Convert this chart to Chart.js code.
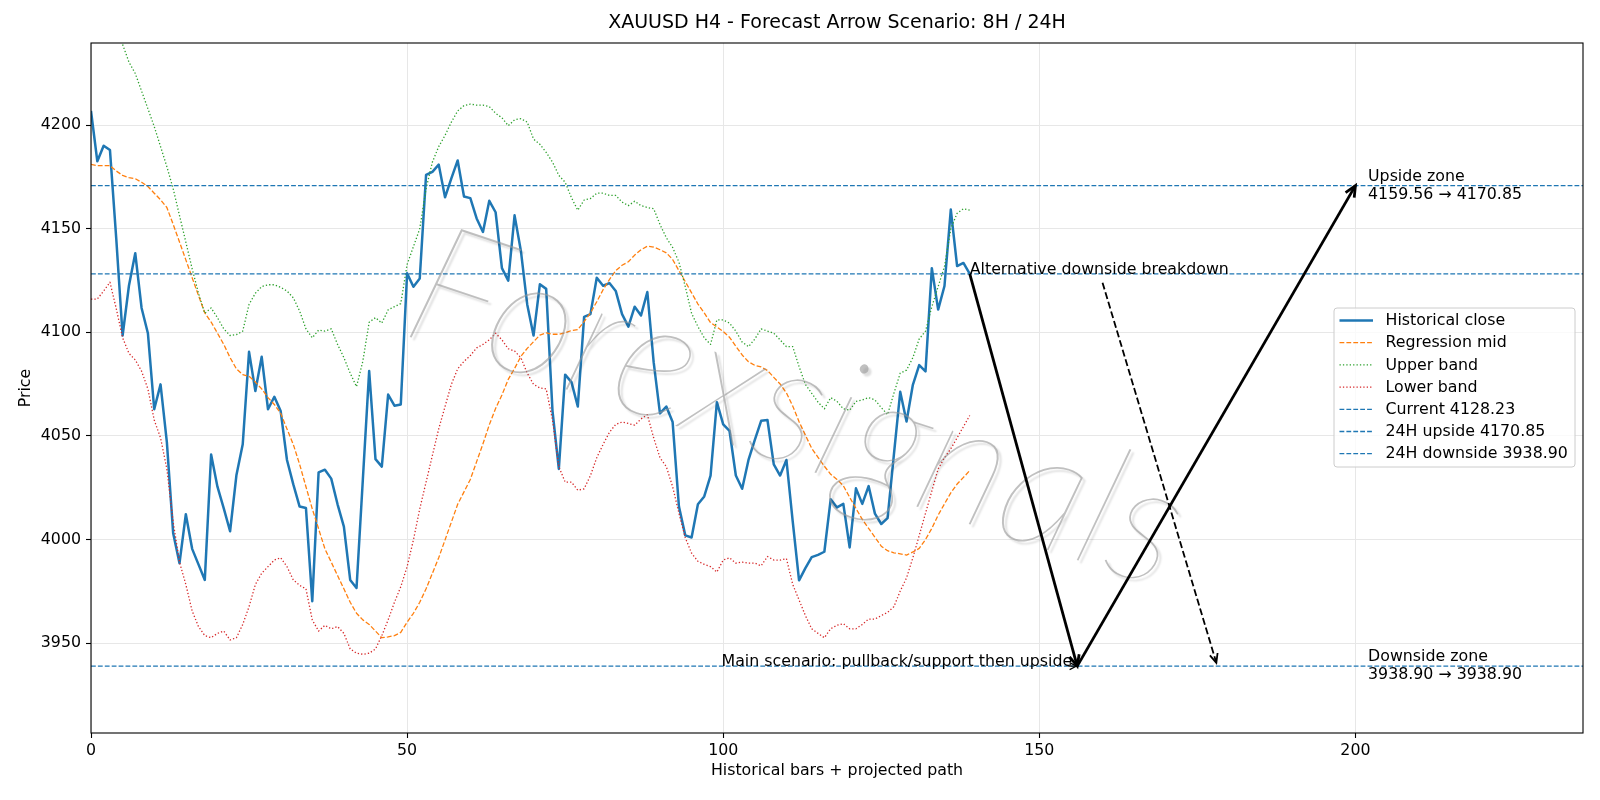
<!DOCTYPE html>
<html><head><meta charset="utf-8">
<script src="https://cdn.jsdelivr.net/npm/chart.js@4.4.1/dist/chart.umd.min.js"></script>
<style>html,body{margin:0;padding:0;background:#fff;}canvas{display:block;}</style>
</head><body>
<canvas id="c" width="1600" height="800"></canvas>
<script>
// ---------------- DATA ----------------
const chartTitle = "XAUUSD H4 - Forecast Arrow Scenario: 8H / 24H";
const xAxisTitle = "Historical bars + projected path";
const yAxisTitle = "Price";

const closeValues = [4206.9,4182.6,4190.1,4188,4145,4098.5,4122.5,4138.2,4111.8,4099.6,
4062.9,4074.9,4047,4003,3988.6,4012.2,3995.5,3988,3980.5,4041,
4025.5,4015,4004,4031,4046,4090.6,4071.7,4088.2,4062.9,4068.9,
4062,4038.4,4026.6,4015.9,4015.2,3970.2,4032.4,4033.7,4029.4,4017,
4006.2,3980.5,3976.6,4029,4081.3,4038.8,4035.2,4070,4064.6,4065.2,
4128.5,4122,4126,4176,4177.5,4181,4165.2,4174.3,4183,4165.6,
4164.8,4155,4148.5,4163.5,4158,4131,4125,4156.5,4139.3,4113.5,
4098.5,4123.2,4121,4062,4034.1,4079.6,4076,4064.2,4107.5,4108.8,
4126.4,4122.5,4123.8,4120,4108.8,4102.8,4112.4,4108.2,4119.5,4085.6,
4060.9,4064.2,4056.7,4015.9,4002,4001,4017,4020.8,4030.9,4066.3,
4055.6,4052.4,4030.9,4024.5,4038.4,4048.1,4057.3,4057.7,4036.3,4030.9,
4038.4,4008.6,3980.3,3986.2,3991.5,3992.6,3994.1,4019.4,4015.5,4017.2,
3996.2,4024.7,4017.2,4025.8,4012.5,4007.5,4010.3,4041,4071.3,4057,
4074.7,4084.2,4081.2,4131,4111,4122.4,4159.3,4132,4133.5,4128.23];

const midValues = [4181.1,4180.5,4180.5,4180.5,4177.9,4175.8,4174.7,4174.2,4172.5,4170.4,
4167.2,4164,4160.3,4152.1,4143.6,4135,4126.4,4117.8,4109.4,4105,
4099.6,4094.2,4087.8,4082.4,4079.6,4078.8,4076,4072.7,4068.5,4065.2,
4060.9,4053.4,4045.9,4036.3,4025.5,4014.8,4005.2,3995.5,3989.1,3982.6,
3976.2,3969.7,3964.4,3961.2,3959,3955.8,3952.6,3953,3953.6,3955.2,
3960.1,3964.4,3969.7,3976.2,3983.7,3991.2,3999.8,4008.4,4017,4023,
4029,4037.6,4046.2,4055.4,4063.3,4069.8,4077.3,4082.6,4088.4,4092.3,
4095.5,4098.7,4099.8,4099.1,4099.1,4099.8,4100.9,4101.3,4105.2,4109.4,
4114.8,4120.6,4125.5,4129.8,4132.4,4134.1,4137.3,4139.9,4141.6,4141.2,
4139.9,4138.4,4135.2,4129.8,4124.5,4119.1,4113.7,4109.4,4104.7,4102.6,
4100.4,4097.6,4093.3,4089.1,4085.8,4084.1,4083.3,4081.6,4078.3,4075.1,
4070.8,4064.4,4056.9,4050.4,4044,4039.7,4035.4,4031.5,4029,4026,
4020.4,4015,4009.7,4005.4,4001.1,3996.8,3994.6,3993.6,3993.1,3992.5,
3994,3995.7,4000,4005.4,4011.8,4017.2,4022.5,4026.8,4030,4033.3];

const upperValues = [4268,4262,4257,4252,4246,4239,4230.5,4225,4216.5,4208,
4199.4,4189.7,4180,4169.3,4156.4,4143.6,4130.7,4118.9,4109.2,4111.8,
4107.1,4101.7,4098.5,4098.9,4100.6,4113.5,4118.9,4122.1,4123,4123,
4121.7,4120,4116.7,4110.3,4101.7,4097.4,4101.1,4100.6,4101.7,4094.2,
4087.8,4080.3,4073.8,4086.1,4104.9,4107.1,4104.5,4110.9,4112.4,4113.9,
4132.8,4141.4,4150,4169.3,4182.2,4189.7,4195.1,4201.5,4206.9,4209.5,
4210.2,4209.7,4209.7,4209,4205.8,4203.6,4199.8,4202.6,4203.2,4201.5,
4193.3,4190.8,4186.9,4182.2,4175.8,4172.5,4165,4159,4163.9,4164.6,
4167.2,4167.2,4166.1,4166.1,4162.9,4161.2,4163.3,4161.2,4160.3,4159.7,
4152.1,4145.7,4141,4133.9,4122.1,4109.2,4102.8,4097.4,4094.2,4106,
4106,4104.5,4100.6,4095.3,4093.1,4096.8,4101.7,4100.6,4099.6,4096.4,
4093.1,4093.1,4083.5,4074.9,4070.6,4066.3,4063.1,4068.5,4066.7,4063.1,
4062.4,4066.7,4067.4,4068.5,4067.4,4063.7,4060.3,4070.6,4080.3,4081.8,
4087.8,4096.8,4100.6,4112.4,4122.1,4131.8,4150,4157.5,4159.7,4159];

const lowerValues = [4116.1,4116.1,4120,4124.2,4111.4,4097.4,4089.9,4086.7,4081.3,4072.7,
4057.7,4049.1,4034.1,4008.4,3989.1,3978.3,3965.5,3958,3953.6,3952.6,
3954.7,3955.8,3951.5,3952.6,3959,3967.6,3978.3,3983.7,3986.9,3990.1,
3991.2,3986.9,3980.5,3977.9,3976.2,3961.2,3955.8,3958.6,3956.9,3958,
3954.7,3947.2,3945.1,3944.6,3945.1,3947.2,3953.6,3961.2,3969.7,3977.2,
3986.9,3999.8,4014.8,4027.7,4040.6,4053.4,4064.2,4074.9,4082.4,4086,
4088.8,4092.5,4094.2,4096.4,4099.6,4096.4,4092.1,4091,4087.8,4080.3,
4074.9,4073.2,4072.7,4057.7,4035.2,4027.7,4027.7,4023.8,4024.5,4030.9,
4039.5,4045.9,4051.7,4055.6,4056.7,4056,4055.2,4058.2,4060.3,4049.1,
4039.5,4035.2,4025.5,4012.7,4000.9,3993.4,3989.5,3988,3986.9,3984.3,
3990.1,3991.2,3988.6,3989.1,3988.6,3988.6,3987.3,3991.8,3990.1,3990.1,
3990.8,3978.3,3970.8,3963.3,3956.9,3954.7,3952.6,3956.9,3958.6,3959.4,
3956.9,3956.9,3959,3961.6,3961.6,3963.3,3964.8,3967.6,3975.1,3981.5,
3991.2,4001.9,4012.7,4023.4,4034.1,4039.5,4043.8,4049.1,4054.5,4059.9];

const levelNames = ["Current 4128.23", "24H upside 4170.85", "24H downside 3938.90"];
const levelValues = [4128.23, 4170.85, 3938.90];

const seriesNames = ["Historical close", "Regression mid", "Upper band", "Lower band"];

const xLimits = [0, 236];
const yLimits = [3906.6, 4239.7];
const xTickValues = [0, 50, 100, 150, 200];
const xTickLabels = ["0", "50", "100", "150", "200"];
const yTickValues = [3950, 4000, 4050, 4100, 4150, 4200];
const yTickLabels = ["3950", "4000", "4050", "4100", "4150", "4200"];

// arrows: [xFrom, yFrom, xTo, yTo]
const mainArrows = [[139, 4128.23, 156, 3938.90], [156, 3938.90, 200, 4170.85]];
const altArrows = [[160, 4124.0, 178, 3940.5]];
const pointerArrows = [[154.6, 3938.90, 155.9, 3938.90]];

const annotationTexts = ["Main scenario: pullback/support then upside", "Alternative downside breakdown",
  "Upside zone\n4159.56 \u2192 4170.85", "Downside zone\n3938.90 \u2192 3938.90"];
const annotationX = [155.2, 139, 202, 202];
const annotationY = [3938.90, 4128.23, 4170.85, 3938.90];

const watermarkText = "Forexsignals";

// ---------------- CHART ----------------
const FONT = "'DejaVu Sans', 'Liberation Sans', sans-serif";
const FS = 15.8;
const pts = arr => arr.map((v, i) => ({x: i, y: v}));
const hline = v => [{x: xLimits[0], y: v}, {x: xLimits[1], y: v}];

const BLUE = '#1f77b4';
const styles = [
  {color: BLUE, width: 2.5, dash: []},
  {color: '#ff7f0e', width: 1.3, dash: [4.8, 2.1]},
  {color: '#2ca02c', width: 1.3, dash: [1.3, 2.1]},
  {color: '#d62728', width: 1.3, dash: [1.3, 2.1]},
  {color: BLUE, width: 1.3, dash: [4.8, 2.1]},
  {color: BLUE, width: 1.3, dash: [4.8, 2.1]},
  {color: BLUE, width: 1.3, dash: [4.8, 2.1]}
];
const allNames = seriesNames.concat(levelNames);
const allData = [pts(closeValues), pts(midValues), pts(upperValues), pts(lowerValues)]
  .concat(levelValues.map(hline));

const datasets = allData.map((d, i) => ({
  label: allNames[i], data: d,
  borderColor: styles[i].color, borderWidth: styles[i].width, borderDash: styles[i].dash,
  pointRadius: 0, tension: 0, fill: false, borderJoinStyle: 'round',
  order: 10 - i
}));

function drawArrow(ctx, x0, y0, x1, y1, lw, dash, hl, hw) {
  const ang = Math.atan2(y1 - y0, x1 - x0);
  ctx.save();
  ctx.strokeStyle = '#000'; ctx.lineWidth = lw; ctx.lineCap = 'butt'; ctx.lineJoin = 'miter';
  ctx.setLineDash(dash);
  ctx.beginPath(); ctx.moveTo(x0, y0); ctx.lineTo(x1, y1); ctx.stroke();
  ctx.setLineDash([]);
  const bx = x1 - hl * Math.cos(ang), by = y1 - hl * Math.sin(ang);
  const nx = -Math.sin(ang) * hw, ny = Math.cos(ang) * hw;
  ctx.beginPath();
  ctx.moveTo(bx + nx, by + ny); ctx.lineTo(x1, y1); ctx.lineTo(bx - nx, by - ny);
  ctx.stroke();
  ctx.restore();
}

const overlay = {
  id: 'overlay',
  afterDraw(chart) {
    const ctx = chart.ctx, xs = chart.scales.x, ys = chart.scales.y, a = chart.chartArea;
    const X = v => xs.getPixelForValue(v), Y = v => ys.getPixelForValue(v);

    // watermark
    ctx.save();
    ctx.beginPath(); ctx.rect(a.left, a.top, a.right - a.left, a.bottom - a.top); ctx.clip();
    const WF = "Lato, 'Open Sans', sans-serif";
    ctx.font = `italic 200 100px ${WF}`;
    const w100 = ctx.measureText(watermarkText).width;
    const size = 100 * 805 / w100;
    ctx.font = `italic 200 ${size}px ${WF}`;
    ctx.translate(398, 333);
    ctx.rotate(18.5 * Math.PI / 180);
    ctx.shadowColor = 'rgba(0,0,0,0.22)'; ctx.shadowOffsetX = 3; ctx.shadowOffsetY = 3; ctx.shadowBlur = 2;
    ctx.fillStyle = 'rgba(150,150,150,0.6)';
    ctx.textBaseline = 'alphabetic'; ctx.textAlign = 'left';
    ctx.fillText(watermarkText, 0, 0);
    ctx.restore();

    // arrows
    mainArrows.forEach(r => drawArrow(ctx, X(r[0]), Y(r[1]), X(r[2]), Y(r[3]), 2.8, [], 11, 5));
    altArrows.forEach(r => drawArrow(ctx, X(r[0]), Y(r[1]), X(r[2]), Y(r[3]), 1.8, [7, 3], 9, 4));
    pointerArrows.forEach(r => drawArrow(ctx, X(r[0]), Y(r[1]), X(r[2]), Y(r[3]), 1.2, [], 7, 3.5));

    // annotation texts
    ctx.save();
    ctx.fillStyle = '#000'; ctx.font = `${FS}px ${FONT}`;
    ctx.textAlign = 'right'; ctx.textBaseline = 'alphabetic';
    ctx.fillText(annotationTexts[0], X(annotationX[0]), Y(annotationY[0]));
    ctx.textAlign = 'left';
    ctx.fillText(annotationTexts[1], X(annotationX[1]), Y(annotationY[1]));
    ctx.textBaseline = 'middle';
    [2, 3].forEach(k => {
      const lines = annotationTexts[k].split('\n');
      const lh = 17.8;
      const y0 = Y(annotationY[k]) - lh * (lines.length - 1) / 2;
      lines.forEach((ln, j) => ctx.fillText(ln, X(annotationX[k]), y0 + j * lh));
    });
    ctx.restore();

    // frame
    ctx.save();
    ctx.strokeStyle = '#000'; ctx.lineWidth = 1.1;
    ctx.strokeRect(a.left, a.top, a.right - a.left, a.bottom - a.top);
    ctx.restore();

    // legend
    ctx.save();
    const lx = 1334, ly = 308, lw = 241, lh = 159;
    ctx.beginPath();
    ctx.roundRect(lx, ly, lw, lh, 3);
    ctx.fillStyle = 'rgba(255,255,255,0.8)'; ctx.fill();
    ctx.strokeStyle = '#cccccc'; ctx.lineWidth = 1; ctx.stroke();
    ctx.font = `${FS}px ${FONT}`; ctx.fillStyle = '#000'; ctx.textBaseline = 'middle'; ctx.textAlign = 'left';
    allNames.forEach((n, i) => {
      const yy = 320.5 + i * 22.2;
      ctx.beginPath();
      ctx.strokeStyle = styles[i].color; ctx.lineWidth = styles[i].width; ctx.setLineDash(styles[i].dash);
      ctx.moveTo(1339.5, yy); ctx.lineTo(1373, yy); ctx.stroke();
      ctx.setLineDash([]);
      ctx.fillText(n, 1385.5, yy + 0.5);
    });
    ctx.restore();

    // titles
    ctx.save();
    ctx.fillStyle = '#000';
    ctx.font = `19px ${FONT}`; ctx.textAlign = 'center'; ctx.textBaseline = 'middle';
    ctx.fillText(chartTitle, (a.left + a.right) / 2, 23);
    ctx.font = `${FS}px ${FONT}`;
    ctx.fillText(xAxisTitle, (a.left + a.right) / 2, 771);
    ctx.translate(25.5, (a.top + a.bottom) / 2);
    ctx.rotate(-Math.PI / 2);
    ctx.fillText(yAxisTitle, 0, 0);
    ctx.restore();
  }
};

const gridCommon = {color: '#e7e7e7', lineWidth: 1, tickColor: '#000', tickLength: 5, tickWidth: 1.1, drawTicks: true};

new Chart(document.getElementById('c'), {
  type: 'line',
  data: {datasets},
  options: {
    responsive: false, animation: false, devicePixelRatio: 1,
    layout: {padding: {left: 0, right: 17, top: 43, bottom: 0}},
    plugins: {legend: {display: false}, tooltip: {enabled: false}, title: {display: false}},
    scales: {
      x: {
        type: 'linear', min: xLimits[0], max: xLimits[1],
        afterBuildTicks: s => { s.ticks = xTickValues.map(v => ({value: v})); },
        afterFit: s => { s.height = 67; },
        ticks: {color: '#000', font: {family: FONT, size: FS}, padding: 3, maxRotation: 0, autoSkip: false,
          callback: (v, i) => xTickLabels[i]},
        grid: gridCommon, border: {display: false}
      },
      y: {
        type: 'linear', min: yLimits[0], max: yLimits[1],
        afterBuildTicks: s => { s.ticks = yTickValues.map(v => ({value: v})); },
        afterFit: s => { s.width = 91; },
        ticks: {color: '#000', font: {family: FONT, size: FS}, padding: 5, autoSkip: false,
          callback: (v, i) => yTickLabels[i]},
        grid: gridCommon, border: {display: false}
      }
    }
  },
  plugins: [overlay]
});
</script>
</body></html>
